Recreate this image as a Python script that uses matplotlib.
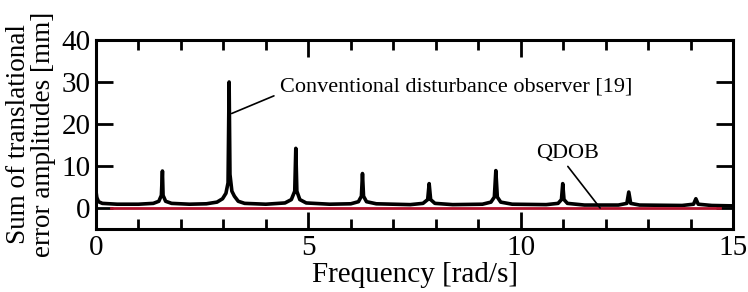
import matplotlib.pyplot as plt
from matplotlib.ticker import MultipleLocator

plt.rcParams['font.family'] = ['Liberation Serif', 'DejaVu Serif']

# Conventional disturbance observer
conv_freq = [0.00, 0.02, 0.06, 0.15, 0.5, 1.0, 1.35, 1.48, 1.54, 1.565, 1.58, 1.64, 1.78,
             2.2, 2.6, 2.85, 2.98, 3.06, 3.11, 3.135, 3.155, 3.2, 3.26, 3.35, 3.5,
             4.0, 4.45, 4.6, 4.68, 4.705, 4.73, 4.8, 4.95,
             5.5, 6.0, 6.18, 6.25, 6.275, 6.3, 6.37, 6.6,
             7.4, 7.7, 7.81, 7.845, 7.88, 7.98, 8.4,
             9.1, 9.3, 9.38, 9.415, 9.45, 9.53, 9.8,
             10.6, 10.88, 10.96, 10.99, 11.02, 11.1, 11.5,
             12.3, 12.5, 12.545, 12.59, 12.8,
             13.8, 14.07, 14.125, 14.18, 14.5, 15.0]
conv_amp = [4.0, 2.5, 1.5, 1.1, 0.9, 0.9, 1.1, 1.6, 3.0, 8.8, 3.0, 1.6, 1.1,
            0.9, 1.0, 1.4, 2.2, 3.5, 6.0, 30.0, 8.0, 4.0, 2.8, 1.6, 1.1,
            0.9, 1.2, 2.0, 4.0, 14.2, 4.0, 2.0, 1.2,
            0.9, 1.0, 1.5, 2.8, 8.2, 2.8, 1.5, 1.0,
            0.8, 1.1, 2.0, 5.8, 2.0, 1.1, 0.8,
            0.9, 1.4, 2.6, 8.9, 2.6, 1.4, 0.9,
            0.8, 1.1, 2.0, 5.8, 2.0, 1.1, 0.7,
            0.7, 1.1, 3.8, 1.1, 0.7,
            0.6, 0.9, 2.2, 0.9, 0.6, 0.5]

# QDOB
qdob_freq = [0.35, 3.0, 6.0, 9.0, 12.0, 14.7]
qdob_amp = [0.0, 0.0, 0.0, 0.0, 0.0, 0.0]

fig = plt.figure(figsize=(7.48, 2.92), dpi=100)
ax = fig.add_axes([0.1283, 0.2158, 0.8517, 0.6472])

ax.plot(conv_freq, conv_amp, color='black', lw=2.6)
ax.plot(qdob_freq, qdob_amp, color='#b0102a', lw=2.0)

ax.set_xlim(0, 15)
ax.set_ylim(-5, 40)
ax.xaxis.set_major_locator(MultipleLocator(5))
ax.xaxis.set_minor_locator(MultipleLocator(1))
ax.yaxis.set_major_locator(MultipleLocator(10))
ax.tick_params(which='both', direction='in', top=True, right=True,
               labelsize=21, width=2, pad=4)
ax.tick_params(which='major', length=12)
ax.tick_params(which='minor', length=7)
for s in ax.spines.values():
    s.set_linewidth(2.2)

ax.set_xlabel('Frequency [rad/s]', fontsize=21, labelpad=1)
ax.set_ylabel('Sum of translational\nerror amplitudes [mm]', fontsize=19.5,
              linespacing=1.0, labelpad=4)

# annotations
ax.text(4.33, 28.7, 'Conventional disturbance observer [19]', fontsize=16,
        va='center', ha='left')
ax.annotate('', xy=(3.195, 22.5), xytext=(4.19, 26.7),
            arrowprops=dict(arrowstyle='-', color='black', lw=1.2,
                            shrinkA=0, shrinkB=0))
ax.text(11.1, 13.0, 'QDOB', fontsize=16, va='center', ha='center')
ax.annotate('', xy=(11.87, 0), xytext=(11.11, 9.9),
            arrowprops=dict(arrowstyle='-', color='black', lw=1.2,
                            shrinkA=0, shrinkB=0))

fig.savefig('out.png', dpi=100)
